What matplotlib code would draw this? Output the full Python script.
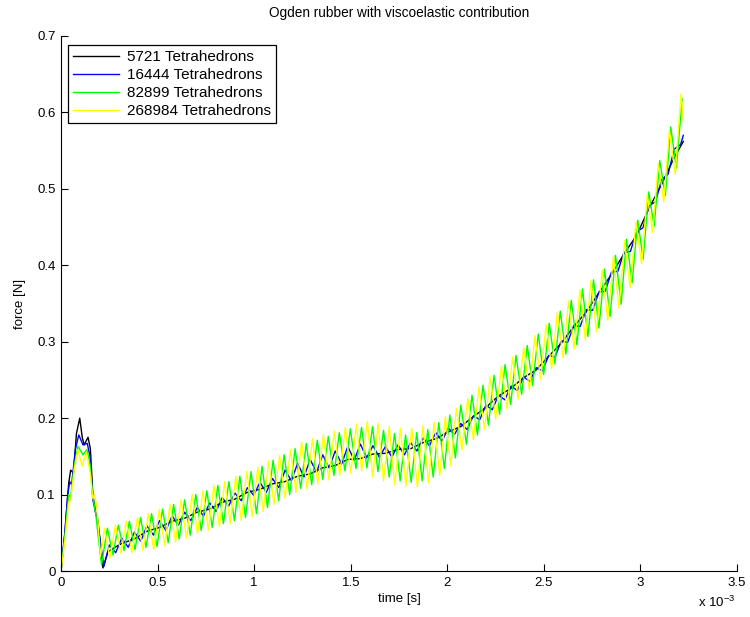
import matplotlib
matplotlib.use("Agg")
import matplotlib.pyplot as plt
from matplotlib.ticker import FixedLocator, FuncFormatter

plt.rcParams['font.family'] = ['Liberation Sans', 'DejaVu Sans']

# ---------------- data (time in ms, force in N) ----------------
labels = ["5721 Tetrahedrons", "16444 Tetrahedrons", "82899 Tetrahedrons", "268984 Tetrahedrons"]
colors = ["#000000", "#0000ff", "#00ff00", "#ffff00"]

black_t = [0, 0.02, 0.04, 0.05, 0.065, 0.08, 0.097, 0.11, 0.12, 0.14, 0.152, 0.165, 0.18, 0.19, 0.20, 0.217,
           0.243, 0.285, 0.315, 0.380, 0.445, 0.510, 0.575, 0.640, 0.705, 0.770, 0.835, 0.900, 0.965,
           1.030, 1.095, 1.160, 1.225, 1.290, 1.355, 1.420, 1.485, 1.550, 1.615, 1.680, 1.745, 1.810,
           1.875, 1.940, 2.005, 2.070, 2.135, 2.200, 2.265, 2.330, 2.395, 2.460, 2.525, 2.590, 2.655,
           2.720, 2.785, 2.850, 2.915, 2.980, 3.045, 3.110, 3.175, 3.222]
black_f = [0, 0.05, 0.115, 0.132, 0.128, 0.18, 0.20, 0.175, 0.165, 0.175, 0.16, 0.10, 0.075, 0.068, 0.045, 0.004,
           0.025, 0.032, 0.036, 0.042, 0.052, 0.057, 0.065, 0.069, 0.077, 0.081, 0.090, 0.094, 0.103,
           0.107, 0.114, 0.117, 0.124, 0.127, 0.135, 0.138, 0.146, 0.147, 0.153, 0.154, 0.159, 0.160,
           0.168, 0.173, 0.182, 0.189, 0.202, 0.214, 0.229, 0.239, 0.253, 0.263, 0.281, 0.298, 0.320,
           0.339, 0.364, 0.388, 0.415, 0.439, 0.475, 0.506, 0.541, 0.562]

blue_t = [0, 0.02, 0.035, 0.045, 0.055, 0.075, 0.092, 0.114, 0.136, 0.15, 0.165, 0.185, 0.20, 0.222,
          0.250, 0.283, 0.315, 0.348, 0.380, 0.413, 0.445, 0.478, 0.510, 0.543, 0.575, 0.608, 0.640, 0.673,
          0.705, 0.738, 0.770, 0.803, 0.835, 0.868, 0.900, 0.933, 0.965, 0.998, 1.030, 1.063, 1.095, 1.128,
          1.160, 1.193, 1.225, 1.258, 1.290, 1.323, 1.355, 1.388, 1.420, 1.453, 1.485, 1.518, 1.550, 1.583,
          1.615, 1.648, 1.680, 1.713, 1.745, 1.778, 1.810, 1.843, 1.875, 1.908, 1.940, 1.973, 2.005, 2.038,
          2.070, 2.103, 2.135, 2.168, 2.200, 2.233, 2.265, 2.298, 2.330, 2.363, 2.395, 2.428, 2.460, 2.493,
          2.525, 2.558, 2.590, 2.623, 2.655, 2.688, 2.720, 2.753, 2.785, 2.818, 2.850, 2.883, 2.915, 2.948,
          2.980, 3.013, 3.045, 3.078, 3.110, 3.143, 3.175, 3.208, 3.222]
blue_f = [0, 0.05, 0.10, 0.117, 0.113, 0.16, 0.178, 0.165, 0.167, 0.15, 0.093, 0.07, 0.045, 0.006,
          0.034, 0.024, 0.043, 0.031, 0.051, 0.039, 0.059, 0.047, 0.066, 0.053, 0.072, 0.060, 0.077, 0.066,
          0.083, 0.072, 0.089, 0.078, 0.096, 0.085, 0.102, 0.092, 0.109, 0.099, 0.116, 0.103, 0.121, 0.109,
          0.132, 0.118, 0.141, 0.123, 0.146, 0.129, 0.152, 0.135, 0.157, 0.140, 0.163, 0.145, 0.166, 0.148,
          0.164, 0.149, 0.163, 0.149, 0.165, 0.152, 0.168, 0.157, 0.174, 0.164, 0.181, 0.170, 0.187, 0.179,
          0.193, 0.185, 0.203, 0.198, 0.217, 0.211, 0.230, 0.224, 0.242, 0.236, 0.254, 0.248, 0.266, 0.262,
          0.282, 0.280, 0.301, 0.299, 0.321, 0.320, 0.342, 0.341, 0.365, 0.366, 0.391, 0.392, 0.417, 0.418,
          0.444, 0.449, 0.478, 0.483, 0.512, 0.519, 0.552, 0.558, 0.570]

green_t = [0, 0.02, 0.04, 0.05, 0.07, 0.088, 0.114, 0.134, 0.15, 0.165, 0.18, 0.195, 0.21,
           0.240, 0.269, 0.297, 0.326, 0.354, 0.383, 0.412, 0.440, 0.469, 0.497, 0.526, 0.555,
           0.583, 0.612, 0.640, 0.669, 0.698, 0.726, 0.755, 0.783, 0.812, 0.841, 0.869, 0.898,
           0.926, 0.955, 0.984, 1.012, 1.041, 1.069, 1.098, 1.127, 1.155, 1.184, 1.212, 1.241,
           1.270, 1.298, 1.327, 1.355, 1.384, 1.413, 1.441, 1.470, 1.498, 1.527, 1.556, 1.584,
           1.613, 1.641, 1.670, 1.699, 1.727, 1.756, 1.784, 1.813, 1.842, 1.870, 1.899, 1.927,
           1.956, 1.985, 2.013, 2.042, 2.070, 2.099, 2.128, 2.156, 2.185, 2.213, 2.242, 2.271,
           2.299, 2.328, 2.356, 2.385, 2.414, 2.442, 2.471, 2.499, 2.528, 2.557, 2.585, 2.614,
           2.642, 2.671, 2.700, 2.728, 2.757, 2.785, 2.814, 2.843, 2.871, 2.900, 2.928, 2.957,
           2.986, 3.014, 3.043, 3.071, 3.100, 3.129, 3.157, 3.186, 3.216]
green_f = [0, 0.045, 0.10, 0.097, 0.14, 0.163, 0.152, 0.159, 0.14, 0.097, 0.075, 0.04, 0.008,
           0.056, 0.021, 0.060, 0.027, 0.065, 0.028, 0.070, 0.031, 0.075, 0.032, 0.081, 0.037,
           0.087, 0.042, 0.093, 0.047, 0.100, 0.053, 0.105, 0.057, 0.112, 0.062, 0.117, 0.066,
           0.124, 0.070, 0.130, 0.075, 0.137, 0.083, 0.145, 0.092, 0.152, 0.100, 0.160, 0.108,
           0.167, 0.113, 0.171, 0.120, 0.176, 0.125, 0.181, 0.131, 0.186, 0.134, 0.188, 0.135,
           0.189, 0.130, 0.184, 0.123, 0.180, 0.118, 0.178, 0.116, 0.181, 0.118, 0.185, 0.123,
           0.194, 0.134, 0.204, 0.148, 0.217, 0.166, 0.230, 0.178, 0.243, 0.191, 0.256, 0.205,
           0.270, 0.218, 0.282, 0.231, 0.295, 0.243, 0.310, 0.257, 0.324, 0.271, 0.340, 0.284,
           0.354, 0.296, 0.369, 0.307, 0.381, 0.318, 0.395, 0.333, 0.413, 0.349, 0.434, 0.377,
           0.459, 0.408, 0.496, 0.451, 0.537, 0.491, 0.581, 0.527, 0.618]

yellow_t = [0, 0.02, 0.04, 0.05, 0.07, 0.088, 0.109, 0.131, 0.15, 0.165, 0.174, 0.185, 0.205,
            0.225, 0.253, 0.282, 0.310, 0.338, 0.367, 0.396, 0.424, 0.452, 0.480, 0.509, 0.537,
            0.565, 0.593, 0.621, 0.650, 0.679, 0.707, 0.735, 0.763, 0.792, 0.820, 0.848, 0.876,
            0.905, 0.933, 0.962, 0.990, 1.019, 1.047, 1.075, 1.103, 1.132, 1.160, 1.188, 1.217,
            1.246, 1.274, 1.302, 1.330, 1.359, 1.387, 1.415, 1.443, 1.472, 1.500, 1.529, 1.557,
            1.586, 1.614, 1.642, 1.670, 1.699, 1.728, 1.757, 1.786, 1.816, 1.845, 1.874, 1.903,
            1.932, 1.961, 1.990, 2.018, 2.047, 2.076, 2.106, 2.135, 2.164, 2.193, 2.222, 2.251,
            2.280, 2.309, 2.338, 2.367, 2.396, 2.425, 2.454, 2.483, 2.512, 2.541, 2.570, 2.599,
            2.628, 2.657, 2.687, 2.715, 2.744, 2.773, 2.802, 2.831, 2.860, 2.889, 2.918, 2.947,
            2.977, 3.006, 3.035, 3.063, 3.092, 3.121, 3.150, 3.180, 3.210, 3.222]
yellow_f = [0, 0.04, 0.09, 0.093, 0.135, 0.159, 0.137, 0.156, 0.13, 0.095, 0.10, 0.085, 0.019,
            0.056, 0.017, 0.060, 0.023, 0.065, 0.024, 0.070, 0.027, 0.075, 0.028, 0.081, 0.033,
            0.087, 0.038, 0.093, 0.043, 0.100, 0.049, 0.105, 0.053, 0.112, 0.058, 0.117, 0.062,
            0.124, 0.066, 0.130, 0.071, 0.136, 0.078, 0.144, 0.087, 0.151, 0.095, 0.159, 0.103,
            0.169, 0.107, 0.173, 0.114, 0.178, 0.119, 0.183, 0.125, 0.188, 0.128, 0.192, 0.131,
            0.196, 0.123, 0.193, 0.118, 0.189, 0.113, 0.187, 0.111, 0.187, 0.110, 0.190, 0.115,
            0.195, 0.125, 0.202, 0.138, 0.213, 0.158, 0.226, 0.172, 0.241, 0.185, 0.254, 0.199,
            0.268, 0.212, 0.280, 0.225, 0.293, 0.237, 0.308, 0.251, 0.322, 0.265, 0.339, 0.279,
            0.353, 0.291, 0.368, 0.302, 0.380, 0.313, 0.394, 0.328, 0.412, 0.344, 0.432, 0.371,
            0.457, 0.402, 0.492, 0.443, 0.533, 0.483, 0.577, 0.519, 0.624, 0.589]

x_ticks = [0, 0.5, 1, 1.5, 2, 2.5, 3, 3.5]
y_ticks = [0, 0.1, 0.2, 0.3, 0.4, 0.5, 0.6, 0.7]

# ---------------- figure ----------------
fig = plt.figure(figsize=(7.5, 6.17), dpi=100)
ax = fig.add_axes([61/750, 46/617, 676/750, 535/617])

series = [(black_t, black_f), (blue_t, blue_f), (green_t, green_f), (yellow_t, yellow_f)]
for (t, f), c, lab in zip(series, colors, labels):
    ax.plot(t, f, color=c, lw=1.0, label=lab)

ax.set_xlim(0, 3.5)
ax.set_ylim(0, 0.7)
ax.xaxis.set_major_locator(FixedLocator(x_ticks))
ax.yaxis.set_major_locator(FixedLocator(y_ticks))
fmt = FuncFormatter(lambda v, p: ('%g' % round(v, 3)))
ax.xaxis.set_major_formatter(fmt)
ax.yaxis.set_major_formatter(fmt)
ax.tick_params(direction='in', length=5, width=0.8, labelsize=9.5, pad=4, colors='black')
ax.spines['top'].set_visible(False)
ax.spines['right'].set_visible(False)
ax.spines['left'].set_linewidth(0.8)
ax.spines['bottom'].set_linewidth(0.8)

ax.set_title("Ogden rubber with viscoelastic contribution", fontsize=9.8, pad=14)
ax.set_xlabel("time [s]", fontsize=9.5, labelpad=3)
ax.set_ylabel("force [N]", fontsize=9.5, labelpad=8)
fig.text(698/750, 1 - 607/617, r'x 10$^{\mathregular{-3}}$', fontsize=9.5, ha='left', va='baseline')

leg = ax.legend(loc='upper left', bbox_to_anchor=(0.0099, 0.983), borderaxespad=0,
                fontsize=11, fancybox=False, framealpha=1, edgecolor='black',
                handlelength=3.0, handletextpad=0.52, labelspacing=0.25, borderpad=0.35,
                handleheight=0.6)
leg.get_frame().set_linewidth(0.9)

fig.savefig("out.png", dpi=100)
